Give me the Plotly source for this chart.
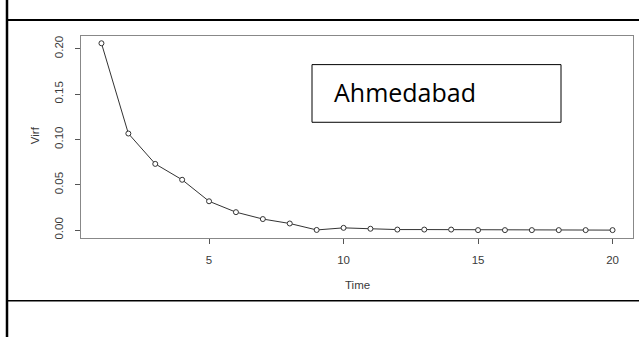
import plotly.graph_objects as go

W, H = 639, 339

# Series: Virf response over time
time = list(range(1, 21))
virf = [0.206, 0.1065, 0.073, 0.0555, 0.0318, 0.0198, 0.0122, 0.0073, 0.0002, 0.0025,
        0.0015, 0.0006, 0.0006, 0.0006, 0.0, 0.0, 0.0, 0.0, 0.0, 0.0]

x_ticks = [5, 10, 15, 20]
y_ticks = [0.00, 0.05, 0.10, 0.15, 0.20]
y_tick_text = ["0.00", "0.05", "0.10", "0.15", "0.20"]
box_label = "Ahmedabad"


def px_x(v):
    return v / W


def px_y(v):
    return 1 - v / H


# R-style 4% padding on both axes
xr = [min(time) - 0.04 * (max(time) - min(time)), max(time) + 0.04 * (max(time) - min(time))]
yr = [min(virf) - 0.04 * (max(virf) - min(virf)), max(virf) + 0.04 * (max(virf) - min(virf))]

axis_font = dict(family="Liberation Sans, Arial, sans-serif", size=11.5, color="#3a3a3a")

fig = go.Figure()
fig.add_trace(go.Scatter(
    x=time, y=virf, mode="lines+markers",
    line=dict(color="#333333", width=1),
    marker=dict(symbol="circle", size=5, color="white",
                line=dict(color="#333333", width=1)),
    showlegend=False, cliponaxis=False,
))

fig.update_layout(
    width=W, height=H,
    margin=dict(l=0, r=0, t=0, b=0),
    paper_bgcolor="white", plot_bgcolor="white",
    xaxis=dict(
        domain=[px_x(81), px_x(633)], range=xr,
        tickvals=x_ticks, ticktext=[str(t) for t in x_ticks],
        ticks="outside", ticklen=5, tickcolor="#555555", tickwidth=1,
        showline=True, linecolor="#888888", linewidth=1, mirror=True,
        showgrid=False, zeroline=False, tickfont=axis_font,
        ticklabelstandoff=7,
    ),
    yaxis=dict(
        domain=[px_y(239), px_y(36)], range=yr,
        tickvals=y_ticks, ticktext=y_tick_text, tickangle=-90,
        ticks="outside", ticklen=5, tickcolor="#555555", tickwidth=1,
        showline=True, linecolor="#888888", linewidth=1, mirror=True,
        showgrid=False, zeroline=False, tickfont=axis_font,
        ticklabelstandoff=7,
    ),
    shapes=[
        # table borders
        dict(type="line", xref="paper", yref="paper", x0=px_x(7), x1=px_x(7), y0=0, y1=1,
             line=dict(color="black", width=2.5)),
        dict(type="line", xref="paper", yref="paper", x0=px_x(6), x1=1, y0=px_y(20), y1=px_y(20),
             line=dict(color="black", width=2)),
        dict(type="line", xref="paper", yref="paper", x0=px_x(6), x1=1, y0=px_y(302.5), y1=px_y(302.5),
             line=dict(color="black", width=1.5)),
        # label box
        dict(type="rect", xref="paper", yref="paper", x0=px_x(312), x1=px_x(561),
             y0=px_y(123), y1=px_y(65), line=dict(color="black", width=1), fillcolor="white"),
    ],
    annotations=[
        dict(text=box_label, xref="paper", yref="paper", x=px_x(332), y=px_y(93),
             xanchor="left", yanchor="middle", showarrow=False,
             font=dict(family="Open Sans, Noto Sans, sans-serif", size=25, color="black")),
        dict(text="Virf", xref="paper", yref="paper", x=px_x(35), y=px_y(136),
             xanchor="center", yanchor="middle", showarrow=False, textangle=-90,
             font=axis_font),
        dict(text="Time", xref="paper", yref="paper", x=px_x(357), y=px_y(287),
             xanchor="center", yanchor="middle", showarrow=False, font=axis_font),
    ],
)

fig.write_html("out.html")
